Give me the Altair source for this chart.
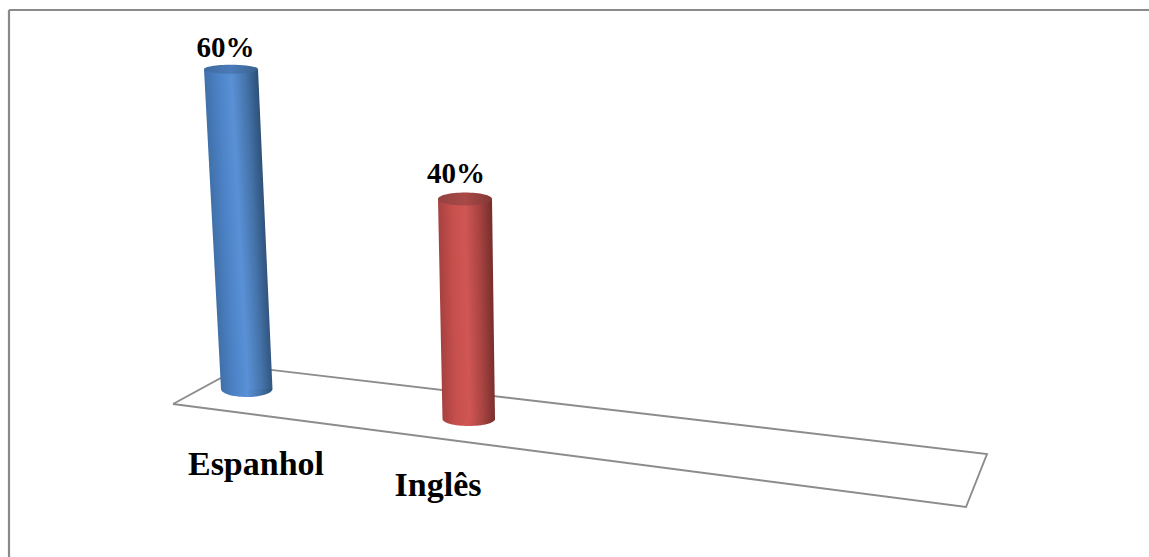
import altair as alt
import pandas as pd

# Chart content
languages = ["Espanhol", "Inglês"]
shares = [60, 40]

# Perspective placement of each cylinder, in page pixels
base_y = [389, 419]
top_y_per_unit = [5.33, 5.5]
top_edges = [(204, 258), (438, 492)]
base_edges = [(221, 272.5), (442.5, 495)]
cap_ry = [4.5, 6.5]
base_ry = [8, 7]
value_label_pos = [(225.5, 48), (456, 174)]
name_label_pos = [(256, 465), (438, 486)]
body_stops = [
    ["#4070a9", "#4c82c6", "#5a91d6", "#4675ad", "#2d4f76"],
    ["#a64140", "#c64f4c", "#d05654", "#a94442", "#752d2b"],
]
cap_colors = [
    ["#3d6aa0", "#4b7bb8", "#38608c"],
    ["#934140", "#a84a48", "#843735"],
]
floor_outline = [(173, 404), (242, 366.5), (987, 454), (966, 507), (173, 404)]
frame_lines = [[(9, 10), (1149, 10)], [(9, 10), (9, 557)]]

FONT = "Liberation Serif"
x_scale = alt.Scale(domain=[0, 1149], range=[0, 1149], nice=False, zero=False)
y_scale = alt.Scale(domain=[0, 557], range=[0, 557], nice=False, zero=False)
X = alt.X("x:Q", scale=x_scale, axis=None)
Y = alt.Y("y:Q", scale=y_scale, axis=None)


def linear(stops, x1=0.0, y1=0.0, x2=1.0, y2=0.0):
    n = len(stops) - 1
    return alt.LinearGradient(
        gradient="linear", x1=x1, y1=y1, x2=x2, y2=y2,
        stops=[alt.GradientStop(offset=i / n, color=c) for i, c in enumerate(stops)],
    )


def ellipse(ratio, part):
    # Unit-width symbol path: the full ellipse or just its lower half
    r = f"1,{ratio:.4f}"
    if part == "lower":
        return f"M-1,0A{r},0,0,0,1,0Z"
    return f"M-1,0A{r},0,0,1,1,0A{r},0,0,1,-1,0Z"


layers = []

frame = pd.DataFrame(
    [{"x": x, "y": y, "seg": i} for i, seg in enumerate(frame_lines) for x, y in seg]
)
layers.append(
    alt.Chart(frame).mark_line(color="#8a8a8a", strokeWidth=2.2).encode(
        x=X, y=Y, detail="seg:N", order=alt.Order("y:Q")
    )
)

floor = pd.DataFrame(
    [{"x": x, "y": y, "i": i} for i, (x, y) in enumerate(floor_outline)]
)
layers.append(
    alt.Chart(floor).mark_line(color="#8c8c8c", strokeWidth=1.9).encode(
        x=X, y=Y, order="i:Q"
    )
)

for i, (name, share) in enumerate(zip(languages, shares)):
    top = base_y[i] - share * top_y_per_unit[i]
    (tl, tr), (bl, br) = top_edges[i], base_edges[i]

    # Rounded foot of the cylinder
    foot_w = br - bl
    foot = pd.DataFrame([{"x": (bl + br) / 2, "y": base_y[i]}])
    layers.append(
        alt.Chart(foot).mark_point(
            filled=True, opacity=1, strokeWidth=0,
            shape=ellipse(2 * base_ry[i] / foot_w, "lower"),
            size=foot_w ** 2,
            fill=linear(body_stops[i]),
        ).encode(x=X, y=Y)
    )

    # Side of the cylinder, shaded along its lean
    body = pd.DataFrame(
        [{"y": top, "x": tl, "x2": tr}, {"y": base_y[i], "x": bl, "x2": br}]
    )
    box_w = max(tr, br) - min(tl, bl)
    u = (tr - tl) / box_w
    lean = (bl - tl) / box_w
    a = u / (1 + lean ** 2)
    layers.append(
        alt.Chart(body).mark_area(
            orient="horizontal",
            fill=linear(body_stops[i], x1=0, y1=0, x2=a, y2=-lean * a),
        ).encode(y=Y, x=alt.X("x:Q", scale=x_scale, axis=None), x2="x2:Q")
    )

    # Top face
    cap_w = tr - tl
    cap = pd.DataFrame([{"x": (tl + tr) / 2, "y": top}])
    layers.append(
        alt.Chart(cap).mark_point(
            filled=True, opacity=1, strokeWidth=0,
            shape=ellipse(2 * cap_ry[i] / cap_w, "full"),
            size=cap_w ** 2,
            fill=linear(cap_colors[i]),
        ).encode(x=X, y=Y)
    )

    # Percentage above the cylinder and language name below it
    vx, vy = value_label_pos[i]
    nx, ny = name_label_pos[i]
    label = pd.DataFrame(
        [
            {"x": vx, "y": vy, "t": f"{share}%", "s": 29},
            {"x": nx, "y": ny, "t": name, "s": 34},
        ]
    )
    layers.append(
        alt.Chart(label).mark_text(
            font=FONT, fontWeight="bold", color="#000000", align="center",
            baseline="middle",
        ).encode(
            x=X, y=Y, text="t:N",
            size=alt.Size("s:Q", scale=None, legend=None),
        )
    )

chart = alt.layer(*layers).properties(
    width=1149, height=557, padding=0,
    autosize=alt.AutoSizeParams(type="none"),
    background="#ffffff",
).configure_view(stroke=None)

chart.save("out.html", embed_options={"renderer": "svg", "actions": False})
